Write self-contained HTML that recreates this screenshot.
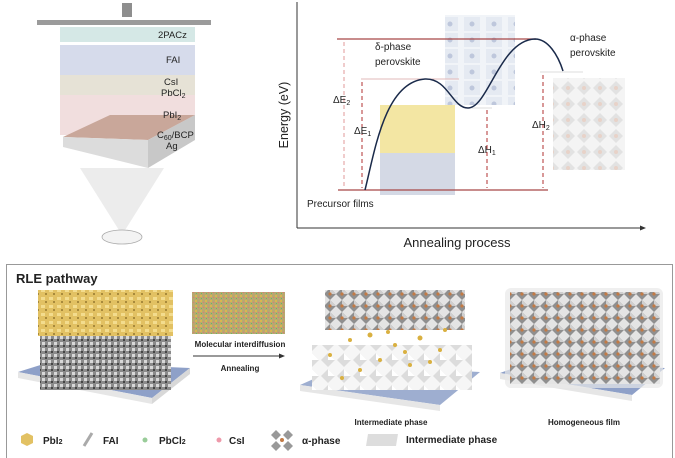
<!DOCTYPE html><html><head><meta charset="utf-8"><style>
html,body{margin:0;padding:0;background:#fff;width:675px;height:458px;overflow:hidden}
svg{display:block;font-family:"Liberation Sans",sans-serif}
</style></head><body>
<svg width="675" height="458" viewBox="0 0 675 458" xmlns="http://www.w3.org/2000/svg">
<defs>
<pattern id="gr" width="6" height="6" patternUnits="userSpaceOnUse"><rect width="6" height="6" fill="#8a8a8a"/><rect x="0" y="0" width="3" height="3" fill="#d8d8d8"/><rect x="3" y="3" width="2" height="2" fill="#444"/></pattern>
<pattern id="ye" width="8" height="8" patternUnits="userSpaceOnUse"><rect width="8" height="8" fill="#e2c163"/><rect x="1" y="1" width="4" height="3" fill="#f3dc8e"/><rect x="5" y="5" width="2" height="2" fill="#a88a3c"/></pattern>
<pattern id="mx" width="5" height="5" patternUnits="userSpaceOnUse"><rect width="5" height="5" fill="#b8a870"/><rect x="0" y="0" width="2" height="2" fill="#d9b650"/><rect x="3" y="2" width="1" height="1" fill="#d77"/><rect x="1" y="3" width="1" height="1" fill="#6b6"/></pattern>
<pattern id="oct" width="12" height="12" patternUnits="userSpaceOnUse"><rect width="12" height="12" fill="#e4e4e4"/><path d="M6 0L12 6L6 12L0 6Z" fill="#8f8f8f"/><path d="M6 0L12 6L6 6Z" fill="#cfcfcf"/><circle cx="6" cy="6" r="1.6" fill="#c27a45"/></pattern>
<pattern id="oct2" width="16" height="16" patternUnits="userSpaceOnUse"><rect width="16" height="16" fill="#f4f4f4"/><path d="M8 1L15 8L8 15L1 8Z" fill="#e2e2e2"/><circle cx="8" cy="8" r="2" fill="#e8d2c8"/></pattern>
<pattern id="oct3" width="16" height="16" patternUnits="userSpaceOnUse"><rect width="16" height="16" fill="#f6f6f6"/><path d="M8 1L15 8L8 15L1 8Z" fill="#dcdcdc"/><path d="M8 1L15 8L8 8Z" fill="#fff"/></pattern>
<pattern id="dl" width="22" height="16" patternUnits="userSpaceOnUse"><rect width="22" height="16" fill="#eef1f6"/><rect x="2" y="1" width="16" height="14" fill="#dfe5ef"/><circle cx="10" cy="8" r="2.5" fill="#aeb9d3"/></pattern>
</defs>

<rect x="122" y="3" width="10" height="14" fill="#8e8e8e"/>
<polygon points="37,20 211,20 211,25 37,25" fill="#9b9b9b"/>
<rect x="60" y="27" width="135" height="15" fill="#d5e8e6"/>
<rect x="60" y="45" width="135" height="30" fill="#d6dbeb"/>
<rect x="60" y="75" width="135" height="20" fill="#e6e2d6"/>
<rect x="60" y="95" width="135" height="40" fill="#f1dede"/>
<polygon points="63,137 110,115 195,115 148,140" fill="#c9a79a"/>
<polygon points="63,137 148,140 148,168 63,147" fill="#dcdcdc"/>
<polygon points="148,140 195,115 195,140 148,168" fill="#c8c8c8"/>
<polygon points="80,168 164,168 122,235" fill="#ececec"/>
<ellipse cx="122" cy="237" rx="20" ry="7" fill="#f3f3f3" stroke="#aaa" stroke-width="0.8"/>
<g font-size="9.5" fill="#222">
<text x="158" y="38">2PACz</text>
<text x="166" y="63">FAI</text>
<text x="164" y="85">CsI</text>
<text x="161" y="96">PbCl<tspan font-size="7" dy="2">2</tspan></text>
<text x="163" y="118">PbI<tspan font-size="7" dy="2">2</tspan></text>
<text x="157" y="138">C<tspan font-size="7" dy="2">60</tspan><tspan dy="-2">/BCP</tspan></text>
<text x="166" y="149">Ag</text>
</g>

<text transform="translate(288,115) rotate(-90)" font-size="12.5" text-anchor="middle" fill="#222">Energy (eV)</text>
<line x1="297" y1="2" x2="297" y2="228" stroke="#333" stroke-width="1"/>
<line x1="297" y1="228" x2="643" y2="228" stroke="#333" stroke-width="1"/>
<polygon points="646,228 640,225.5 640,230.5" fill="#333"/>
<text x="457" y="247" font-size="13" text-anchor="middle" fill="#222">Annealing process</text>
<rect x="445" y="15" width="70" height="90" fill="url(#dl)" opacity="0.8"/>
<rect x="553" y="78" width="72" height="92" fill="url(#oct2)"/>
<rect x="380" y="105" width="75" height="48" fill="#f0e08c" opacity="0.8"/>
<rect x="380" y="153" width="75" height="42" fill="#c9cfdf" opacity="0.8"/>
<line x1="337" y1="39" x2="536" y2="39" stroke="#a84848" stroke-width="1.2"/>
<line x1="361" y1="79" x2="459" y2="79" stroke="#e2b8b8" stroke-width="1"/>
<line x1="470" y1="108" x2="492" y2="108" stroke="#ddd" stroke-width="1"/>
<line x1="540" y1="72" x2="583" y2="72" stroke="#ddd" stroke-width="1"/>
<line x1="338" y1="190" x2="548" y2="190" stroke="#a84848" stroke-width="1.2"/>
<g stroke-dasharray="4,3" stroke-width="1">
<line x1="344" y1="42" x2="344" y2="188" stroke="#e09a9a"/>
<line x1="362" y1="82" x2="362" y2="188" stroke="#b03030"/>
<line x1="487" y1="110" x2="487" y2="188" stroke="#b03030"/>
<line x1="543" y1="75" x2="543" y2="188" stroke="#b03030"/>
</g>
<path d="M365,190 C375,150 385,82 425,79 C448,78 452,108 468,108 C488,108 500,40 535,39 C548,39 558,55 563,71" fill="none" stroke="#1a2a4a" stroke-width="1.5"/>
<g font-size="10" fill="#222">
<text x="333" y="103">ΔE<tspan font-size="7" dy="2">2</tspan></text>
<text x="354" y="134">ΔE<tspan font-size="7" dy="2">1</tspan></text>
<text x="478" y="153">ΔH<tspan font-size="7" dy="2">1</tspan></text>
<text x="532" y="128">ΔH<tspan font-size="7" dy="2">2</tspan></text>
<text x="375" y="50">δ-phase</text><text x="375" y="65">perovskite</text>
<text x="570" y="41">α-phase</text><text x="570" y="56">perovskite</text>
<text x="307" y="207">Precursor films</text>
</g>

<rect x="6.5" y="264.5" width="666" height="200" fill="none" stroke="#999" stroke-width="1"/>
<text x="16" y="283" font-size="13" font-weight="bold" fill="#222">RLE pathway</text>
<polygon points="18,372 50,362 190,368 152,398" fill="#8ea0c8"/>
<polygon points="18,372 152,398 152,404 18,378" fill="#e6e6e6"/>
<polygon points="152,398 190,368 190,374 152,404" fill="#d8d8d8"/>
<rect x="40" y="335" width="131" height="55" fill="url(#gr)"/>
<rect x="38" y="290" width="135" height="46" fill="url(#ye)"/>
<rect x="192" y="292" width="93" height="42" fill="url(#mx)"/>
<text x="240" y="347" font-size="8" font-weight="bold" text-anchor="middle" fill="#222">Molecular interdiffusion</text>
<line x1="193" y1="356" x2="281" y2="356" stroke="#333" stroke-width="1"/>
<polygon points="285,356 279,353.5 279,358.5" fill="#333"/>
<text x="240" y="371" font-size="8" font-weight="bold" text-anchor="middle" fill="#222">Annealing</text>

<polygon points="300,385 345,365 480,372 440,405" fill="#9eaed0"/>
<polygon points="300,385 440,405 440,411 300,391" fill="#e6e6e6"/>
<rect x="325" y="290" width="140" height="40" fill="url(#oct)"/>
<rect x="312" y="345" width="160" height="45" fill="url(#oct3)"/>
<g fill="#d9b040">
<circle cx="350" cy="340" r="2"/><circle cx="370" cy="335" r="2.5"/><circle cx="395" cy="345" r="2"/><circle cx="420" cy="338" r="2.5"/><circle cx="440" cy="350" r="2"/><circle cx="380" cy="360" r="2"/><circle cx="410" cy="365" r="2"/><circle cx="360" cy="370" r="2"/><circle cx="445" cy="330" r="2"/><circle cx="330" cy="355" r="2"/>
<circle cx="388" cy="332" r="2"/><circle cx="405" cy="352" r="2"/><circle cx="430" cy="362" r="2"/><circle cx="342" cy="378" r="2"/>
</g>

<polygon points="500,373 530,362 665,368 632,395" fill="#8ea0c8"/>
<polygon points="500,373 632,395 632,401 500,379" fill="#e6e6e6"/>
<rect x="505" y="288" width="158" height="100" rx="6" fill="#e8e8e8" opacity="0.7"/>
<rect x="510" y="292" width="150" height="92" fill="url(#oct)"/>

<g font-size="8" font-weight="bold" fill="#222" text-anchor="middle">
<text x="391" y="425">Intermediate phase</text>
<text x="584" y="425">Homogeneous film</text>
</g>

<polygon points="21,436 27,433 33,436 33,443 27,446 21,443" fill="#e2c163"/>
<text x="43" y="444" font-size="10" font-weight="bold" fill="#222">PbI<tspan font-size="7">2</tspan></text>
<line x1="84" y1="446" x2="92" y2="433" stroke="#aaa" stroke-width="3"/>
<text x="103" y="444" font-size="10" font-weight="bold" fill="#222">FAI</text>
<circle cx="145" cy="440" r="2.5" fill="#9c9"/>
<text x="159" y="444" font-size="10" font-weight="bold" fill="#222">PbCl<tspan font-size="7">2</tspan></text>
<circle cx="219" cy="440" r="2.5" fill="#e9a"/>
<text x="229" y="444" font-size="10" font-weight="bold" fill="#222">CsI</text>
<g fill="#999"><path d="M276 430l5 5-5 5-5-5z"/><path d="M288 430l5 5-5 5-5-5z"/><path d="M276 441l5 5-5 5-5-5z"/><path d="M288 441l5 5-5 5-5-5z"/></g>
<circle cx="282" cy="440" r="2" fill="#c27a45"/>
<text x="302" y="444" font-size="10" font-weight="bold" fill="#222">α-phase</text>
<polygon points="368,434 398,434 396,446 366,446" fill="#ddd"/>
<text x="406" y="443" font-size="10" font-weight="bold" fill="#222">Intermediate phase</text>
</svg>
</body></html>
